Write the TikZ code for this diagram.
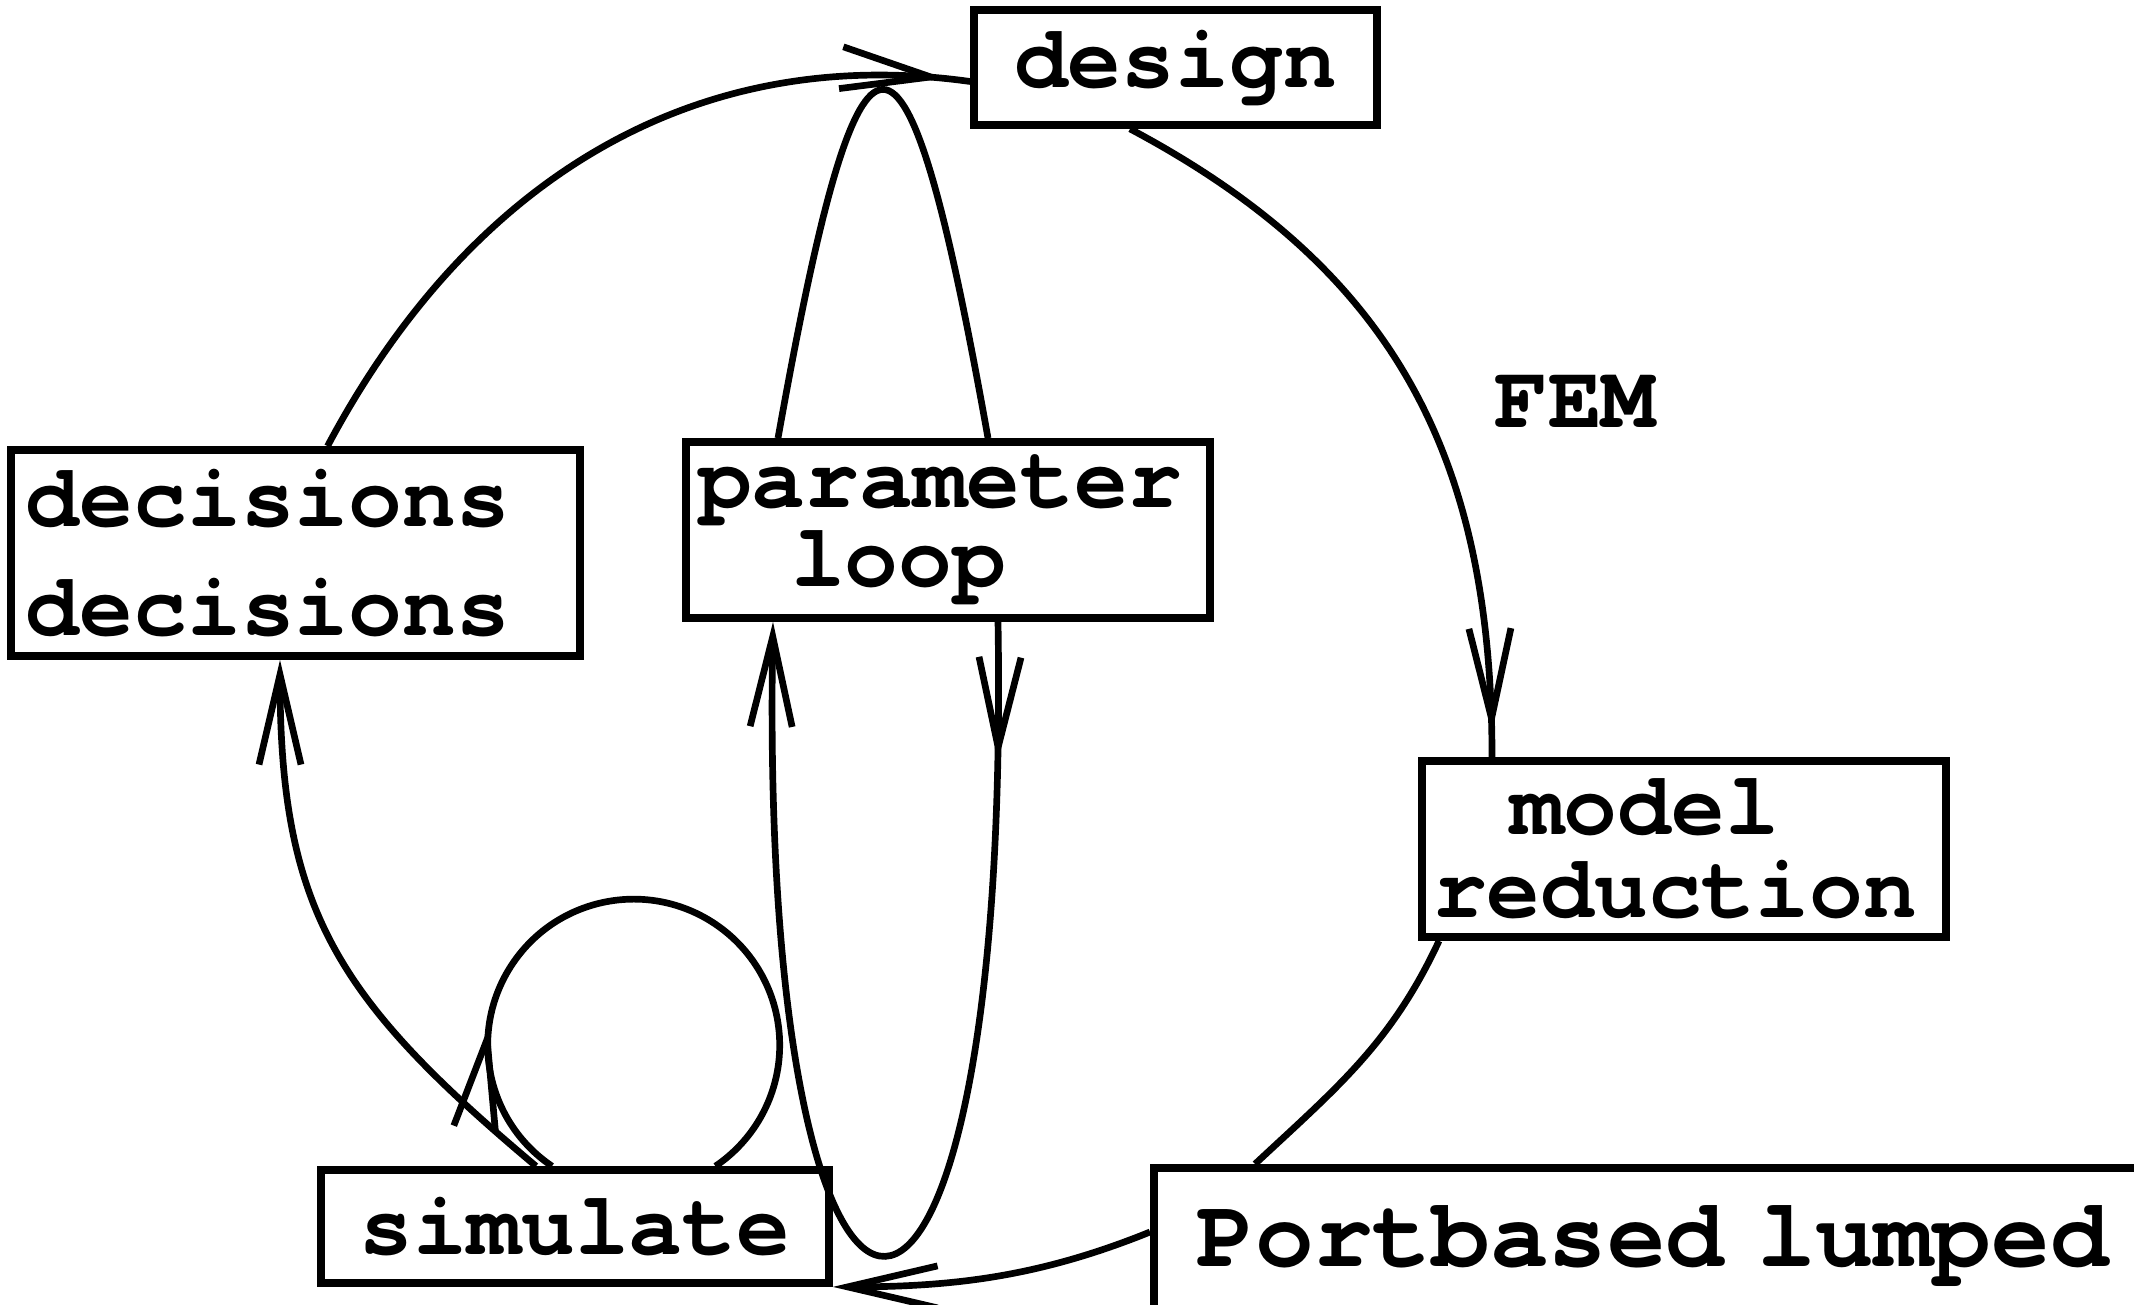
\documentclass[tikz,border=0pt]{standalone}
\usepackage{fontspec}
\setmonofont{texgyrecursor}[Extension=.otf, UprightFont=*-regular, BoldFont=*-bold]
\usetikzlibrary{arrows.meta, decorations.markings}
\setlength{\lineskiplimit}{-5pt}

\begin{document}
\begin{tikzpicture}[
		every node/.style={font=\ttfamily\bfseries\fontsize{25.5}{31}\selectfont},
		box/.style={draw, line width=2.2pt, inner sep=0pt, fill=white},
		line/.style={line width=1.9pt},
		flow/.style={line, -{Straight Barb[length=0.9cm, width=0.42cm]}},
		midbarb/.style={postaction={decorate}, decoration={markings,
				mark=at position #1 with {\arrow{Straight Barb[length=0.9cm, width=0.42cm]}}}}
	]
	\useasboundingbox (0,0) rectangle (21.34,-13.04);
	\clip (0,0) rectangle (21.34,-13.04);

	% Blocchi
	\node[box, minimum width=4.03cm, minimum height=1.15cm] (design) at (11.755,-0.675) {design};
	\node[box, text width=5.39cm, inner xsep=0.15cm, minimum height=2.06cm, align=left] (dec) at (2.955,-5.53) {decisions\\decisions};
	\node[box, text width=5.0cm, inner xsep=0.12cm, minimum height=1.76cm, align=left,
		font=\ttfamily\bfseries\fontsize{25.5}{22.5}\selectfont] (param) at (9.48,-5.30) {parameter\\\hspace*{1.04em}loop};
	\node[box, text width=5.02cm, inner xsep=0.11cm, minimum height=1.76cm, align=left,
		font=\ttfamily\bfseries\fontsize{25.5}{23.6}\selectfont] (model) at (16.84,-8.49) {\hspace*{0.86em}model\\reduction};
	\node[box, minimum width=5.08cm, minimum height=1.13cm] (sim) at (5.75,-12.265) {simulate};
	\node[box, anchor=north west, text width=10cm, inner xsep=0.43cm, inner ysep=0.29cm,
		text height=0.7cm, text depth=1.2cm, align=left,
		font=\ttfamily\bfseries\fontsize{27.8}{33}\selectfont] (port) at (11.5,-11.64) {Portbased lumped};
	\node[anchor=base] (fem) at (15.75,-4.27) {FEM};

	% Ciclo esterno
	\draw[line, midbarb=-0.25cm] ([xshift=0.32cm]dec.north) .. controls +(62:3.0) and +(172:2.8) .. ([yshift=-0.14cm]design.west);
	\draw[line, midbarb=-0.24cm] ([xshift=-0.455cm]design.south) .. controls +(-28:3.0) and +(0,3.0) .. ([xshift=-1.92cm]model.north);
	\draw[line] ([xshift=-2.45cm]model.south) to[out=-115, in=43] ([xshift=1.05cm]port.north west);
	\draw[flow] ([yshift=-0.68cm]port.north west) .. controls +(202:1.2) and +(1.2,0) .. (sim.south east);
	\draw[flow] ([xshift=-0.39cm]sim.north) .. controls +(140:2.6) and +(0,-2.5) .. ([xshift=-0.155cm]dec.south);

	% Anello dei parametri
	\draw[line] ([xshift=-1.7cm]param.north) .. controls +(0.83,4.65) and +(-0.83,4.65) .. ([xshift=0.4cm]param.north);
	\draw[flow, midbarb=1.4cm] ([xshift=0.5cm]param.south) .. controls +(0.14,-8.43) and +(-0.15,-8.43) .. ([xshift=-1.75cm]param.south);

	% Simulazione ripetuta
	\draw[line, midbarb=1.63cm] ([xshift=-0.23cm]sim.north) arc[start angle=235.97, end angle=-55.97, radius=1.46cm];
\end{tikzpicture}
\end{document}
